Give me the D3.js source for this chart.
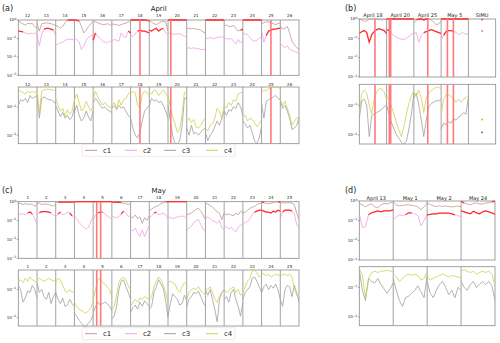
<!DOCTYPE html>
<meta charset="utf-8">
<style>
body { margin: 0; background: #fff; }
text { font-family: "DejaVu Sans", sans-serif; fill: #222; }
</style>
<body>
<script src="https://cdn.jsdelivr.net/npm/d3@7"></script>
<script>
// all series values are log10 of the plotted quantity, one inner array per day / case

// ---- panel (a): April ----
var daysA = ["12","13","14","15","16","17","18","19","20","21","22","23","24","25","26"];
var c1A = [
  [-0.04,-0.14,-0.21,-0.27,-0.18,-0.21,-0.18,-0.36,-0.45],
  [-0.18,-0.6,-0.2,-0.18,-0.15,-0.18,-0.2,-0.25,-0.3],
  [-0.3,-0.35,-0.45,-0.35,-0.15,-0.02,0,0,0],
  [0,-0.02,-0.05,-0.35,-0.7,-0.55,-0.35,-0.2,-0.1],
  [-0.05,-0.1,-0.15,-0.2,-0.25,-0.25,-0.2,-0.25,-0.3],
  [-0.2,-0.25,-0.25,-0.3,-0.25,-0.2,-0.18,-0.1,-0.1],
  [0,0,0,0,0,0,0,-0.02,-0.05],
  [-0.05,-0.12,-0.2,-0.25,-0.18,-0.1,-0.08,-0.1,-0.6],
  [0,0,0,0,0,0,0,0,0],
  [-0.45,-0.45,-0.48,-0.45,-0.5,-0.5,-0.55,-0.65,-0.7],
  [0,0,0,0,0,0,0,0,0],
  [-0.3,-0.28,-0.35,-0.35,-0.3,-0.45,-0.6,-0.55,-0.5],
  [0,0,0,0,0,0,0,0,0],
  [-0.2,-0.15,-0.1,-0.1,-0.15,-0.2,-0.25,-0.2,-0.15],
  [-0.3,-0.5,-0.45,-0.35,-0.7,-1.15,-1.35,-1.5,-1.6]
];
var hi1A = ["000000000","000000000","000001111","111000000","000000000","000000000","111111111","000000000",
            "111111111","000000000","111111111","000000011","111111111","000000000","000000000"];
var c2A = [
  [-0.6,-0.62,-0.65,-0.7,-0.75,-0.72,-0.75,-0.7,-0.78],
  [-0.8,-1.4,-0.75,-0.5,-0.45,-0.45,-0.5,-0.55,-0.85],
  [-1.35,-1.3,-1.25,-1.2,-1.1,-1.05,-1.05,-1.05,-1.1],
  [-1.0,-1.05,-1.2,-1.6,-1.4,-1.1,-0.95,-0.85,-0.8],
  [-1.1,-0.7,-0.9,-1.0,-1.15,-1.2,-1.25,-1.15,-1.2],
  [-1.15,-1.05,-1.1,-1.15,-0.7,-0.9,-0.95,-0.6,-0.7],
  [-0.85,-0.9,-0.75,-0.6,-0.55,-0.6,-0.6,-0.65,-0.7],
  [-0.55,-0.6,-0.5,-0.45,-0.6,-0.5,-0.45,-0.7,-0.8],
  [-0.7,-0.75,-0.75,-0.78,-0.75,-0.75,-0.8,-0.9,-0.85],
  [-1.55,-1.5,-1.55,-1.5,-1.55,-1.55,-1.6,-1.6,-1.6],
  [-1.0,-1.0,-0.95,-1.0,-1.0,-0.95,-0.95,-0.9,-0.95],
  [-1.0,-1.0,-1.05,-1.0,-1.15,-1.3,-1.05,-1.25,-1.1],
  [-0.75,-0.75,-0.8,-0.95,-1.1,-1.15,-1.1,-1.0,-0.9],
  [-0.6,-1.2,-0.85,-0.6,-0.55,-0.5,-0.5,-0.45,-0.45],
  [-1.25,-1.4,-1.5,-1.4,-1.6,-1.65,-1.7,-1.75,-1.8]
];
var hi2A = ["111000000","000111110","000000000","000000000","110000000","000000011","000111111","111111100",
            "000000000","000000000","000000000","000000000","000000000","001111111","000000000"];
var c3A = [
  [-0.95,-0.75,-0.8,-0.7,-0.85,-0.6,-0.7,-0.65,-0.6],
  [-0.6,-1.4,-0.7,-0.65,-0.7,-0.75,-0.75,-0.8,-0.9],
  [-0.95,-1.15,-1.35,-1.2,-1.4,-1.3,-1.45,-1.35,-1.05],
  [-1.15,-0.95,-1.3,-1.5,-1.4,-1.15,-1.35,-1.5,-1.15],
  [-0.85,-0.7,-0.8,-0.95,-1.05,-1.0,-1.1,-1.15,-1.2],
  [-1.05,-0.95,-1.1,-0.95,-1.05,-1.0,-1.15,-1.3,-1.4],
  [-1.4,-1.75,-2.0,-2.1,-1.9,-1.5,-1.15,-1.05,-0.95],
  [-0.95,-0.7,-0.8,-0.75,-0.85,-0.8,-0.95,-1.15,-1.4],
  [-0.95,-1.5,-2.0,-2.3,-2.3,-2.2,-1.7,-0.7,-0.7],
  [-1.75,-2.0,-1.65,-1.95,-1.9,-2.0,-1.9,-1.8,-1.75],
  [-1.9,-2.2,-2.0,-1.9,-1.7,-1.5,-1.65,-1.4,-1.15],
  [-1.15,-1.3,-1.1,-1.15,-1.0,-1.05,-0.85,-1.0,-1.3],
  [-1.5,-1.6,-1.75,-1.65,-1.9,-2.2,-2.3,-2.1,-1.7],
  [-0.9,-1.4,-0.8,-0.75,-0.7,-0.65,-0.6,-0.7,-0.75],
  [-0.8,-1.05,-0.95,-1.15,-1.4,-1.8,-1.75,-1.65,-1.4]
];
var c4A = [
  [-0.4,-0.45,-0.5,-0.55,-0.45,-0.5,-0.45,-0.5,-0.45],
  [-0.4,-1.2,-0.45,-0.4,-0.38,-0.38,-0.4,-0.4,-0.45],
  [-0.7,-0.95,-1.15,-1.05,-1.35,-1.1,-1.25,-1.15,-0.75],
  [-0.75,-0.55,-0.85,-1.15,-1.05,-0.8,-1.0,-1.15,-0.95],
  [-0.75,-0.45,-0.65,-0.8,-0.95,-0.85,-0.95,-1.0,-1.05],
  [-0.95,-0.85,-1.05,-0.75,-0.95,-0.75,-0.7,-0.55,-0.45],
  [-0.55,-0.45,-0.5,-0.95,-1.05,-0.55,-0.45,-0.5,-0.6],
  [-0.45,-0.55,-0.4,-0.45,-0.6,-0.5,-0.4,-0.5,-0.7],
  [-0.6,-1.0,-1.35,-1.6,-1.9,-1.8,-1.3,-0.5,-0.45],
  [-1.5,-1.4,-1.55,-1.45,-1.7,-1.75,-1.65,-1.5,-1.4],
  [-1.75,-1.85,-1.65,-1.6,-1.4,-1.05,-1.15,-1.4,-0.95],
  [-0.95,-1.05,-0.85,-0.95,-0.75,-0.8,-0.55,-0.5,-0.5],
  [-1.35,-1.3,-1.5,-1.4,-1.45,-1.55,-1.7,-1.6,-1.45],
  [-0.5,-0.4,-0.45,-0.35,-0.35,-0.3,-0.3,-0.3,-0.35],
  [-0.75,-0.95,-0.8,-1.05,-1.3,-1.65,-1.5,-1.4,-1.35]
];
var bandsA = [6.5, 8.15, 13.5];   // event times, in days from the first day shown

// ---- panel (b): selected cases + simulation ----
var casesB = ["April 18","April 20","April 25","May 5","SIMU"];
var c1B = [
  [0,-0.05,-0.12,-0.1,-0.02,0,0,0,-0.02,-0.05,-0.03,0],
  [0,0,0,0,0,0,0,0,0,0,0,0],
  [-0.2,-0.05,0,0,-0.05,0,0,-0.05,-0.15,-0.3,-0.25,-0.1],
  [0,0,0,0,0,0,0,0,0,0,0,0],
  null
];
var hi1B = ["000000000000","111111111111","011111100000","111111111111",""];
var c2B = [
  [-0.75,-0.65,-0.6,-0.7,-1.2,-0.8,-0.65,-0.55,-0.5,-0.55,-0.6,-0.75],
  [-0.55,-0.6,-0.75,-0.85,-0.95,-1.0,-1.05,-1.05,-1.0,-0.9,-0.8,-0.7],
  [-0.75,-0.7,-1.2,-0.85,-0.7,-0.65,-0.6,-0.55,-0.6,-0.65,-0.7,-0.75],
  [-1.1,-0.85,-0.65,-0.6,-0.6,-0.62,-0.7,-0.8,-0.75,-0.7,-0.8,-0.75],
  null
];
var hi2B = ["111111111111","110000000000","000011111111","011111000000",""];
var c3B = [
  [-1.45,-0.85,-0.8,-1.0,-2.05,-1.35,-1.3,-1.25,-1.2,-1.15,-1.05,-1.0],
  [-1.0,-1.3,-1.6,-1.8,-2.0,-2.1,-2.25,-2.3,-2.2,-1.8,-1.3,-0.6],
  [-0.75,-0.6,-1.0,-1.5,-2.05,-1.5,-1.05,-0.95,-0.9,-0.85,-0.85,-0.8],
  [-1.8,-1.6,-1.65,-1.55,-1.6,-1.45,-1.5,-1.4,-1.35,-1.25,-1.3,-0.75],
  null
];
var c4B = [
  [-1.3,-0.6,-0.5,-0.6,-1.0,-1.3,-0.8,-0.55,-0.45,-0.45,-0.55,-0.8],
  [-0.7,-0.8,-1.05,-1.3,-1.6,-1.85,-2.05,-1.7,-1.3,-0.95,-0.7,-0.5],
  [-0.55,-0.7,-0.5,-0.75,-1.25,-0.75,-0.6,-0.5,-0.45,-0.4,-0.4,-0.45],
  [-1.3,-0.8,-0.65,-0.65,-0.7,-0.8,-0.9,-0.8,-0.9,-0.8,-0.75,-0.65],
  null
];
var simuB = {c1: -0.03, c2: -0.62, c3: -1.91, c4: -1.48};
var bandsB = [0.575, 1.1, 1.15, 2.51, 3.23, 3.45];

// ---- panel (c): May ----
var daysC = ["1","2","3","4","5","6","17","18","19","20","21","22","23","24","25"];
var c1C = [
  [-0.05,-0.1,-0.15,-0.1,-0.15,-0.12,-0.15,-0.25,-0.1],
  [-0.08,-0.08,-0.15,-0.12,-0.13,-0.15,-0.2,-0.22,-0.15],
  [-0.02,-0.02,-0.02,-0.02,-0.02,-0.02,-0.02,-0.02,-0.02],
  [0,0,0,0,0,0,0,0,0],
  [0,0,0,0,0,0,0,0,0],
  [-0.02,-0.02,-0.03,-0.03,-0.05,-0.08,-0.1,-0.15,-0.12],
  [-0.8,-0.85,-0.7,-0.9,-0.8,-1.15,-0.85,-1.0,-0.75],
  [-0.45,-0.4,-0.3,-0.25,-0.2,-0.1,-0.05,0,0],
  [0,0,0,0,0,0,0,0,0],
  [-0.7,-0.65,-0.6,-0.5,-0.4,-0.35,-0.5,-0.7,-0.95],
  [-0.1,-0.12,-0.2,-0.3,-0.4,-0.55,-0.6,-0.95,-0.6],
  [-0.6,-0.7,-0.65,-0.7,-0.75,-0.6,-0.7,-0.5,-0.6],
  [-0.6,-0.55,-0.45,-0.35,-0.3,-0.25,-0.15,-0.1,-0.08],
  [0,-0.05,-0.08,-0.1,-0.08,-0.05,-0.02,0,-0.02],
  [-0.05,-0.05,-0.08,-0.05,-0.05,-0.08,-0.15,-0.6,-0.95]
];
var hi1C = ["000000000","000000000","011111111","111111111","111111111","111110000","000000000","000000011",
            "111111111","000000000","000000000","000000000","000000000","110000011","000000000"];
var c2C = [
  [-0.75,-0.65,-0.65,-0.7,-0.6,-0.55,-0.65,-0.9,-1.2],
  [-0.7,-0.58,-0.53,-0.53,-0.53,-0.55,-0.6,-0.7,-0.8],
  [-0.8,-0.65,-0.55,-0.7,-0.65,-0.55,-0.6,-0.75,-0.85],
  [-0.75,-0.9,-1.1,-1.25,-1.35,-1.45,-1.35,-1.05,-0.8],
  [-0.95,-0.7,-0.6,-0.55,-0.55,-0.65,-0.75,-0.85,-0.95],
  [-0.8,-0.8,-0.85,-0.8,-0.65,-0.5,-0.6,-0.8,-0.7],
  [-1.5,-1.55,-1.4,-1.65,-1.85,-1.5,-1.85,-1.55,-1.25],
  [-0.85,-0.75,-0.6,-0.55,-0.7,-0.65,-0.6,-0.7,-0.9],
  [-0.8,-0.85,-0.9,-0.85,-0.8,-0.8,-0.75,-0.8,-0.85],
  [-1.5,-1.4,-1.3,-1.1,-1.0,-0.95,-1.2,-1.45,-1.6],
  [-0.9,-0.8,-0.9,-1.0,-1.05,-1.15,-1.0,-1.4,-1.5],
  [-1.4,-1.3,-1.45,-1.35,-1.5,-1.6,-1.35,-1.25,-1.2],
  [-1.2,-1.1,-1.05,-0.9,-0.7,-0.55,-0.5,-0.45,-0.45],
  [-0.45,-0.5,-0.55,-0.55,-0.6,-0.5,-0.55,-0.45,-0.5],
  [-0.9,-0.55,-0.45,-0.45,-0.45,-0.5,-0.65,-1.2,-1.4]
];
var hi2C = ["000011100","011111100","011000110","000000000","001110000","000011000","000000000","001100000",
            "000000000","000000000","000000000","000000000","000001111","111111111","011111000"];
var c3C = [
  [-0.85,-1.0,-1.45,-1.3,-1.05,-1.1,-0.85,-1.0,-1.3],
  [-0.75,-1.1,-1.0,-1.25,-1.35,-1.1,-1.5,-1.25,-1.1],
  [-1.1,-1.35,-1.5,-1.3,-1.6,-1.55,-1.35,-1.5,-1.6],
  [-1.85,-1.95,-2.1,-2.2,-2.3,-2.3,-2.2,-2.1,-1.9],
  [-1.85,-1.6,-1.45,-1.55,-1.5,-1.45,-1.5,-1.6,-1.75],
  [-2.05,-1.95,-1.6,-1.0,-0.7,-0.65,-0.9,-1.1,-1.35],
  [-1.8,-1.65,-1.55,-1.7,-1.45,-1.6,-1.4,-1.5,-1.6],
  [-1.7,-1.6,-1.1,-0.9,-0.65,-0.8,-0.95,-1.4,-2.0],
  [-1.95,-1.5,-1.15,-1.25,-1.35,-1.55,-1.5,-1.2,-1.4],
  [-1.6,-1.35,-1.25,-1.1,-1.15,-1.05,-1.25,-1.45,-1.6],
  [-1.0,-1.2,-1.0,-1.35,-1.7,-2.15,-1.35,-1.1,-1.0],
  [-1.35,-1.25,-1.45,-1.1,-1.0,-1.35,-1.6,-1.95,-1.45],
  [-1.35,-1.1,-1.0,-0.9,-0.6,-0.55,-0.7,-0.9,-1.1],
  [-1.1,-0.9,-0.8,-1.0,-0.85,-0.95,-0.8,-1.0,-1.35],
  [-1.35,-1.6,-1.0,-0.85,-0.9,-1.25,-0.85,-1.1,-1.45]
];
var c4C = [
  [-0.7,-0.65,-0.75,-0.6,-0.7,-0.55,-0.65,-0.7,-0.75],
  [-0.65,-0.6,-0.65,-0.7,-0.65,-0.6,-0.65,-0.7,-0.65],
  [-0.75,-0.6,-0.65,-0.85,-1.05,-1.1,-1.0,-1.1,-1.05],
  [-1.45,-1.6,-1.7,-1.75,-1.8,-1.85,-1.75,-1.65,-1.45],
  [-1.35,-1.0,-0.65,-0.6,-0.75,-0.8,-0.9,-1.0,-1.25],
  [-1.7,-1.6,-1.2,-0.75,-0.6,-0.55,-0.65,-0.85,-1.0],
  [-1.6,-1.45,-1.35,-1.45,-1.3,-1.35,-1.25,-1.3,-1.35],
  [-1.35,-1.25,-0.9,-0.7,-0.55,-0.65,-0.85,-1.1,-1.45],
  [-0.75,-0.7,-0.75,-0.8,-1.0,-1.1,-0.9,-0.75,-0.85],
  [-1.35,-1.1,-1.0,-0.95,-1.0,-0.9,-1.05,-1.1,-1.2],
  [-0.95,-1.0,-0.9,-1.1,-1.35,-1.45,-1.25,-1.1,-1.05],
  [-1.0,-1.1,-1.05,-0.95,-0.9,-1.1,-1.0,-1.2,-1.15],
  [-1.1,-0.9,-0.7,-0.6,-0.35,-0.3,-0.4,-0.55,-0.5],
  [-0.4,-0.45,-0.5,-0.45,-0.55,-0.5,-0.45,-0.5,-0.45],
  [-0.55,-0.45,-0.45,-0.5,-0.45,-0.55,-0.95,-1.2,-1.3]
];
var bandsC = [4.19, 4.4];

// ---- panel (d): selected May cases ----
var casesD = ["April 13","May 1","May 2","May 24"];
var c1D = [
  [-0.12,-0.2,-0.3,-0.2,-0.15,-0.3,-0.35,-0.2,-0.12,-0.15,-0.1,-0.05],
  [-0.05,-0.2,-0.25,-0.22,-0.2,-0.2,-0.22,-0.25,-0.3,-0.45,-0.3,-0.1],
  [-0.1,-0.18,-0.25,-0.28,-0.25,-0.28,-0.25,-0.28,-0.3,-0.28,-0.25,-0.3],
  [-0.02,-0.1,-0.15,-0.2,-0.12,-0.1,-0.15,-0.15,-0.1,-0.08,-0.05,0]
];
var hi1D = ["000000000000","000000000000","000000000000","110000000011"];
var c2D = [
  [-0.65,-1.35,-1.3,-0.7,-0.6,-0.55,-0.5,-0.55,-0.5,-0.5,-0.5,-0.45],
  [-0.95,-0.8,-0.7,-0.75,-0.7,-0.6,-0.6,-0.65,-0.75,-1.25,-1.0,-0.65],
  [-0.7,-0.68,-0.65,-0.65,-0.62,-0.62,-0.62,-0.62,-0.65,-0.7,-0.75,-0.8],
  [-0.5,-0.55,-0.6,-0.65,-0.52,-0.6,-0.65,-0.55,-0.5,-0.55,-0.6,-0.68]
];
var hi2D = ["000111111111","000011100000","111111111100","111111111111"];
var c3D = [
  [-0.4,-1.1,-1.45,-0.7,-0.8,-0.85,-0.7,-0.9,-1.05,-1.2,-1.05,-0.85],
  [-0.7,-1.1,-1.45,-1.65,-1.35,-1.3,-1.2,-1.1,-0.95,-1.15,-1.35,-0.6],
  [-0.8,-1.2,-1.35,-1.1,-0.9,-0.8,-1.0,-1.25,-1.1,-1.35,-1.0,-1.1],
  [-0.8,-1.0,-1.1,-0.9,-0.8,-1.0,-0.9,-0.8,-0.9,-0.8,-0.95,-1.45]
];
var c4D = [
  [-0.35,-0.6,-1.35,-0.7,-0.5,-0.45,-0.5,-0.45,-0.45,-0.42,-0.45,-0.45],
  [-0.55,-0.65,-0.8,-0.7,-0.6,-0.55,-0.6,-0.55,-0.6,-0.75,-0.7,-0.45],
  [-0.65,-0.75,-0.7,-0.65,-0.6,-0.55,-0.6,-0.65,-0.6,-0.62,-0.65,-0.68],
  [-0.45,-0.4,-0.45,-0.5,-0.45,-0.55,-0.5,-0.45,-0.5,-0.45,-0.55,-0.95]
];

var legendNames = ["c1","c2","c3","c4"];

// ---- drawing ----
var col = {c1: "#bf9990", c2: "#f0a0e2", c3: "#a0a0a0", c4: "#cfcf50", red: "#ff3030", band: "#ff7a7a"};
var topDom = [1e-3, 1], botDom = [Math.pow(10, -2.3), Math.pow(10, -0.3)];

var svg = d3.select("body").append("svg").attr("width", 500).attr("height", 343);
var clipId = 0;

function sup(sel, x, y, e) {
  var t = sel.append("text").attr("x", x).attr("y", y).attr("text-anchor", "end")
    .style("font-size", "4px");
  t.append("tspan").text("10");
  t.append("tspan").attr("dy", -1.6).style("font-size", "3px").text(e);
}

function row(o, r) {
  var n = o.labels.length;
  var x = d3.scaleLinear().domain([0, n]).range([o.x0, o.x1]);
  var y = d3.scaleLog().domain(r.dom).range([r.y1, r.y0]);
  var g = svg.append("g");
  var id = "cl" + (clipId++);
  g.append("clipPath").attr("id", id).append("rect")
    .attr("x", o.x0).attr("y", r.y0 - 1).attr("width", o.x1 - o.x0).attr("height", r.y1 - r.y0 + 2);

  // frame and separators
  g.append("rect").attr("x", o.x0).attr("y", r.y0).attr("width", o.x1 - o.x0).attr("height", r.y1 - r.y0)
    .attr("fill", "none").attr("stroke", "#8a8a8a").attr("stroke-width", 0.8);
  d3.range(1, n).forEach(function(i) {
    g.append("line").attr("x1", x(i)).attr("x2", x(i)).attr("y1", r.y0).attr("y2", r.y1)
      .attr("stroke", "#8a8a8a").attr("stroke-width", 0.8);
  });

  // ticks
  r.ticks.forEach(function(e) {
    var yy = y(Math.pow(10, e));
    g.append("line").attr("x1", o.x0 - 1.5).attr("x2", o.x0).attr("y1", yy).attr("y2", yy)
      .attr("stroke", "#555").attr("stroke-width", 0.5);
    sup(g, o.x0 - 2, yy + 1.4, e === 0 ? "0" : "\u2212" + (-e));
  });

  // section labels
  if (r.labY) {
    o.labels.forEach(function(l, i) {
      g.append("text").attr("x", x(i + 0.5)).attr("y", r.labY).attr("text-anchor", "middle")
        .style("font-size", o.labSize + "px").text(l);
    });
  }

  var lines = g.append("g").attr("clip-path", "url(#" + id + ")");
  var line = d3.line().x(function(d) { return x(d[0]); }).y(function(d) { return y(d[1]); });

  r.series.forEach(function(s) {
    s.data.forEach(function(day, i) {
      if (!day) return;
      var pts = day.map(function(v, j) { return [i + j / (day.length - 1), Math.pow(10, v)]; });
      lines.append("path").attr("d", line(pts)).attr("fill", "none")
        .attr("stroke", col[s.key]).attr("stroke-width", 0.8);
      if (s.hi && s.hi[i] && s.hi[i].indexOf("1") >= 0) {
        var m = s.hi[i];
        lines.append("path")
          .attr("d", line.defined(function(d, j) { return m[j] === "1"; })(pts))
          .attr("fill", "none").attr("stroke", col.red).attr("stroke-width", 1.3);
        line.defined(function() { return true; });
      }
    });
  });

  // vertical event bands
  (o.bands || []).forEach(function(b) {
    lines.append("line").attr("x1", x(b)).attr("x2", x(b)).attr("y1", r.y0).attr("y2", r.y1)
      .attr("stroke", col.band).attr("stroke-width", 1.6);
  });

  // simulation points
  if (r.points) {
    r.points.forEach(function(p) {
      lines.append("circle").attr("cx", x(p.t)).attr("cy", y(Math.pow(10, p.v)))
        .attr("r", 0.9).attr("fill", p.c);
    });
  }
}

function legend(y0) {
  var xs = [85, 125, 164, 206];
  svg.append("rect").attr("x", 82).attr("y", y0).attr("width", 153).attr("height", 12)
    .attr("fill", "#fff").attr("stroke", "#ddd").attr("stroke-width", 0.6).attr("rx", 1);
  legendNames.forEach(function(nm, i) {
    svg.append("line").attr("x1", xs[i]).attr("x2", xs[i] + 12).attr("y1", y0 + 6).attr("y2", y0 + 6)
      .attr("stroke", col[nm]).attr("stroke-width", 1);
    svg.append("text").attr("x", xs[i] + 18).attr("y", y0 + 8.5).style("font-size", "7px").text(nm);
  });
}

function panel(o) {
  svg.append("text").attr("x", o.tagX).attr("y", o.tagY).style("font-size", "8px").text(o.tag);
  if (o.title) svg.append("text").attr("x", (o.x0 + o.x1) / 2).attr("y", o.tagY)
    .attr("text-anchor", "middle").style("font-size", "7px").text(o.title);
  o.rows.forEach(function(r) { row(o, r); });
}

panel({
  tag: "(a)", tagX: 2, tagY: 11, title: "April", x0: 18.3, x1: 299, labels: daysA, labSize: 4,
  bands: bandsA,
  rows: [
    {y0: 20, y1: 75.3, dom: topDom, labY: 16.7, ticks: [0, -1, -2, -3],
     series: [{key: "c2", data: c2A, hi: hi2A}, {key: "c1", data: c1A, hi: hi1A}]},
    {y0: 87, y1: 143.7, dom: botDom, labY: 85.8, ticks: [-1, -2],
     series: [{key: "c3", data: c3A}, {key: "c4", data: c4A}]}
  ]
});
legend(144.3);

panel({
  tag: "(b)", tagX: 345, tagY: 11, x0: 359.3, x1: 495.7, labels: casesB, labSize: 5,
  bands: bandsB,
  rows: [
    {y0: 19, y1: 77, dom: topDom, labY: 17, ticks: [0, -1, -2, -3],
     series: [{key: "c2", data: c2B, hi: hi2B}, {key: "c1", data: c1B, hi: hi1B}],
     points: [{t: 4.5, v: simuB.c1, c: "#b04848"}, {t: 4.5, v: simuB.c2, c: "#ee66cc"}]},
    {y0: 84.3, y1: 144, dom: botDom, ticks: [-1, -2],
     series: [{key: "c3", data: c3B}, {key: "c4", data: c4B}],
     points: [{t: 4.5, v: simuB.c4, c: "#b8b820"}, {t: 4.5, v: simuB.c3, c: "#555"}]}
  ]
});

panel({
  tag: "(c)", tagX: 2, tagY: 193, title: "May", x0: 18.3, x1: 299, labels: daysC, labSize: 4,
  bands: bandsC,
  rows: [
    {y0: 201.7, y1: 258.3, dom: topDom, labY: 198.7, ticks: [0, -1, -2, -3],
     series: [{key: "c2", data: c2C, hi: hi2C}, {key: "c1", data: c1C, hi: hi1C}]},
    {y0: 270, y1: 326, dom: botDom, labY: 267.7, ticks: [-1, -2],
     series: [{key: "c3", data: c3C}, {key: "c4", data: c4C}]}
  ]
});
legend(327.7);

panel({
  tag: "(d)", tagX: 345, tagY: 193, x0: 359.3, x1: 495, labels: casesD, labSize: 5,
  rows: [
    {y0: 201, y1: 260, dom: topDom, labY: 199.5, ticks: [0, -1, -2, -3],
     series: [{key: "c2", data: c2D, hi: hi2D}, {key: "c1", data: c1D, hi: hi1D}]},
    {y0: 266.7, y1: 325.7, dom: botDom, ticks: [-1, -2],
     series: [{key: "c3", data: c3D}, {key: "c4", data: c4D}]}
  ]
});
</script>
</body>
